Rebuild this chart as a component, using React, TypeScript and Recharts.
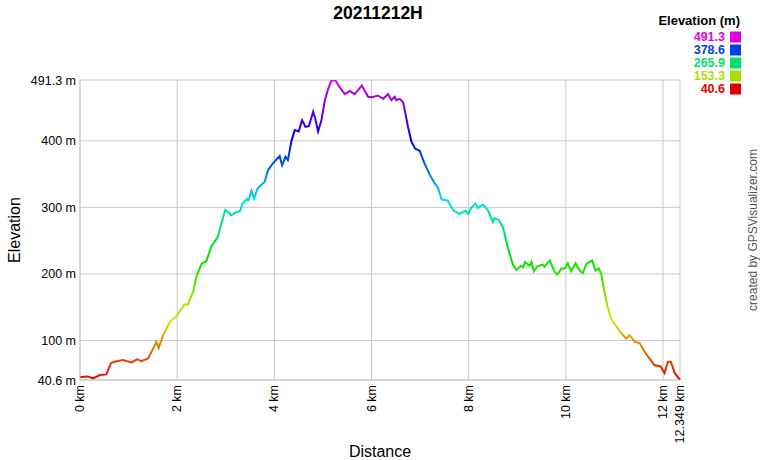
import React from 'react'
import { LineChart, Line, XAxis, YAxis, CartesianGrid, Label } from 'recharts'

// distance (km) and elevation (m)
const DIST = [
  0, 0.16, 0.27, 0.41, 0.54, 0.64, 0.71, 0.88, 1.06, 1.18, 1.26, 1.4, 1.5, 1.57, 1.62, 1.71, 1.85, 1.98,
  2.15, 2.22, 2.33, 2.39, 2.5, 2.6, 2.7, 2.84, 2.91, 2.99, 3.08, 3.11, 3.22, 3.29, 3.35, 3.44, 3.47, 3.53,
  3.58, 3.66, 3.8, 3.87, 3.97, 4.11, 4.16, 4.23, 4.28, 4.35, 4.42, 4.5, 4.57, 4.64, 4.71, 4.8, 4.84, 4.9,
  4.97, 5.04, 5.1, 5.17, 5.25, 5.34, 5.45, 5.55, 5.65, 5.8, 5.93, 6.01, 6.13, 6.24, 6.34, 6.41, 6.48, 6.51,
  6.58, 6.65, 6.69, 6.75, 6.82, 6.9, 6.99, 7.09, 7.2, 7.3, 7.37, 7.44, 7.57, 7.68, 7.81, 7.93, 7.99, 8.05,
  8.14, 8.19, 8.29, 8.4, 8.5, 8.53, 8.62, 8.71, 8.81, 8.91, 8.98, 9.07, 9.12, 9.16, 9.25, 9.29, 9.34, 9.41,
  9.51, 9.56, 9.67, 9.76, 9.82, 9.91, 9.98, 10.04, 10.11, 10.2, 10.28, 10.35, 10.42, 10.54, 10.61, 10.68,
  10.73, 10.78, 10.85, 10.93, 11.04, 11.14, 11.24, 11.31, 11.42, 11.52, 11.62, 11.72, 11.82, 11.95, 12.03,
  12.1, 12.16, 12.24, 12.349,
]
const ELEV = [
  45, 46, 43, 48, 49, 66, 68, 70.6, 67, 72, 69, 73, 87, 98, 89, 108, 128, 136,
  154, 154, 174, 194, 215, 219, 241, 256, 276, 296, 291, 288, 293, 294, 306, 313, 311, 325,
  313, 329, 338, 356, 366, 377, 363, 376, 371, 399, 416, 414, 431, 421, 422, 444, 434, 414,
  431, 461, 476, 490, 491.3, 481, 470, 475, 470, 483, 466, 465.5, 468, 463, 470, 461, 466, 461,
  463, 458, 444, 421, 399, 388, 385, 366, 349, 336, 329, 312, 310, 296, 290, 295, 290, 299,
  306, 299, 304, 295, 278, 284, 281, 269, 238, 214, 206, 212, 210, 218, 212, 218, 204, 211,
  214, 211, 220, 204, 199, 208, 208, 216, 204, 216, 205, 201, 215, 220, 205, 208,
  199, 178, 153, 133, 121, 111, 103, 108, 98, 96, 83, 73, 63, 61, 51,
  68, 68, 51, 40.6,
]

const X_TICKS = [0, 2, 4, 6, 8, 10, 12, 12.349]
const Y_TICKS = [40.6, 100, 200, 300, 400, 491.3]

const LEGEND_VALUES = [491.3, 378.6, 265.9, 153.3, 40.6]
const LEGEND_COLORS = ['#e000e0', '#0040e0', '#00e070', '#a8e000', '#e00000']

const data = DIST.map((d, i) => ({ d, e: ELEV[i] }))

const FONT = '"Liberation Sans", Arial, sans-serif'

// hue 300 (top) down to 0 (bottom), like the colour scale
const STOPS = Array.from({ length: 11 }, (_, i) => i / 10)

const XTick = ({ x, y, payload }: any) => (
  <text
    x={x + 4}
    y={y}
    transform={`rotate(-90, ${x + 4}, ${y})`}
    textAnchor="end"
    fontSize={12.5}
    fill="#000"
    fontFamily={FONT}
  >
    {payload.value} km
  </text>
)

const YTick = ({ x, y, payload }: any) => (
  <text x={x} y={y + 4.5} textAnchor="end" fontSize={12.5} fill="#000" fontFamily={FONT}>
    {payload.value} m
  </text>
)

export default function App() {
  return (
    <div style={{ position: 'relative', width: 760, height: 460, fontFamily: FONT }}>
      <style>{`body{margin:0}`}</style>
      <LineChart width={760} height={460} data={data} margin={{ top: 80, right: 80, left: 0, bottom: 0 }}>
        <defs>
          <linearGradient id="elevGrad" x1="0" y1="0" x2="0" y2="1">
            {STOPS.map(o => (
              <stop key={o} offset={o} stopColor={`hsl(${300 * (1 - o)}, 100%, 44%)`} />
            ))}
          </linearGradient>
        </defs>
        <CartesianGrid stroke="#c8c8c8" strokeWidth={1} />
        <XAxis
          dataKey="d"
          type="number"
          domain={[0, 12.349]}
          ticks={X_TICKS}
          interval={0}
          height={80}
          tickSize={0}
          tickMargin={5}
          tickLine={false}
          axisLine={{ stroke: '#c8c8c8' }}
          tick={<XTick />}
        >
          <Label value="Distance" position="insideBottom" offset={3} fontSize={16} fill="#000" />
        </XAxis>
        <YAxis
          type="number"
          domain={[40.6, 491.3]}
          allowDataOverflow
          ticks={Y_TICKS}
          interval={0}
          width={80}
          tickSize={0}
          tickMargin={4}
          tickLine={false}
          axisLine={{ stroke: '#c8c8c8' }}
          tick={<YTick />}
        >
          <Label value="Elevation" angle={-90} position="insideLeft" offset={14} fontSize={16} fill="#000" style={{ textAnchor: 'middle' }} />
        </YAxis>
        <Line
          dataKey="e"
          type="linear"
          stroke="url(#elevGrad)"
          strokeWidth={2}
          dot={false}
          isAnimationActive={false}
        />
      </LineChart>
      <svg width={760} height={460} style={{ position: 'absolute', left: 0, top: 0, pointerEvents: 'none' }}>
        <text x={378} y={19} textAnchor="middle" fontSize={17.5} fontWeight="bold" fill="#000">
          20211212H
        </text>
        <text x={740} y={25} textAnchor="end" fontSize={13} fontWeight="bold" fill="#000">
          Elevation (m)
        </text>
        {LEGEND_VALUES.map((v, i) => (
          <g key={v}>
            <text x={725} y={41 + i * 13} textAnchor="end" fontSize={12.5} fontWeight="bold" fill={LEGEND_COLORS[i]}>
              {v}
            </text>
            <rect x={730} y={31.5 + i * 13} width={11} height={11} fill={LEGEND_COLORS[i]} />
          </g>
        ))}
        <text
          x={757}
          y={230}
          transform="rotate(-90, 757, 230)"
          textAnchor="middle"
          fontSize={12}
          fill="#555"
        >
          created by GPSVisualizer.com
        </text>
      </svg>
    </div>
  )
}
